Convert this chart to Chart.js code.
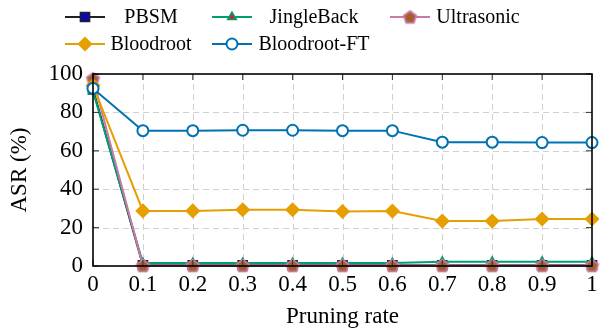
<!DOCTYPE html>
<html>
<head>
<meta charset="utf-8">
<script src="https://cdn.jsdelivr.net/npm/chart.js@4"></script>
<style>
  html, body { margin: 0; padding: 0; background: #fff; }
  #wrap { width: 607px; height: 328px; }
</style>
</head>
<body>
<div id="wrap"><canvas id="asrChart" width="607" height="328"></canvas></div>
<script>
const pruningRates = [0, 0.1, 0.2, 0.3, 0.4, 0.5, 0.6, 0.7, 0.8, 0.9, 1];
const xTicks = [0, 0.1, 0.2, 0.3, 0.4, 0.5, 0.6, 0.7, 0.8, 0.9, 1];
const yTicks = [0, 20, 40, 60, 80, 100];

const pbsm        = [92, 0.4, 0.4, 0.4, 0.4, 0.4, 0.4, 0.4, 0.4, 0.4, 0.4];
const jingleBack  = [91, 1.5, 1.5, 1.5, 1.5, 1.5, 1.5, 2.2, 2.2, 2.2, 2.2];
const ultrasonic  = [97.5, 0.2, 0.2, 0.2, 0.2, 0.2, 0.2, 0.2, 0.2, 0.2, 0.2];
const bloodroot   = [94, 28.7, 28.7, 29.3, 29.3, 28.4, 28.6, 23.4, 23.4, 24.5, 24.5];
const bloodrootFT = [92.5, 70.5, 70.5, 70.7, 70.7, 70.5, 70.5, 64.5, 64.5, 64.3, 64.3];

const FONT = '"Liberation Serif", "DejaVu Serif", serif';

// pentagon marker (no built-in pointStyle for it)
function pentagon(r, fill, stroke) {
  const c = document.createElement('canvas');
  const s = Math.ceil(r * 2 + 4);
  c.width = s; c.height = s;
  const g = c.getContext('2d');
  g.beginPath();
  for (let i = 0; i < 5; i++) {
    const a = -Math.PI / 2 + i * 2 * Math.PI / 5;
    const px = s / 2 + r * Math.cos(a), py = s / 2 + r * Math.sin(a) + 0.6;
    if (i === 0) g.moveTo(px, py); else g.lineTo(px, py);
  }
  g.closePath();
  g.fillStyle = fill; g.fill();
  g.lineWidth = 1.8; g.strokeStyle = stroke; g.stroke();
  return c;
}
const pentaImg = pentagon(6.5, '#a0622d', '#cc79a7');

const series = [
  {label: 'PBSM', data: pbsm, color: '#222222', fill: '#0a0ab4', style: 'rect', radius: 6.5, order: 5},
  {label: 'JingleBack', data: jingleBack, color: '#009e73', fill: '#d42020', style: 'triangle', radius: 5, order: 4},
  {label: 'Ultrasonic', data: ultrasonic, color: '#cc79a7', fill: '#a0622d', style: pentaImg, radius: 7, order: 3},
  {label: 'Bloodroot', data: bloodroot, color: '#e69f00', fill: '#e69f00', style: 'rectRot', radius: 6.5, order: 2},
  {label: 'Bloodroot-FT', data: bloodrootFT, color: '#0072b2', fill: '#ffffff', style: 'circle', radius: 5.5, order: 1}
];

// legend laid out in aligned columns like the pgfplots one
const legendCols = [{x0: 65, tc: 151}, {x0: 212, tc: 314}, {x0: 390, tc: 478}];
const legendRows = [17, 44];

const framePlugin = {
  id: 'frame',
  beforeDatasetsDraw(chart) {
    const {ctx, chartArea: a, scales} = chart;
    ctx.save();
    ctx.strokeStyle = '#d0d0d0';
    ctx.lineWidth = 1;
    ctx.setLineDash([6, 4]);
    yTicks.slice(1, -1).forEach(v => {
      const y = Math.round(scales.y.getPixelForValue(v)) + 0.5;
      ctx.beginPath(); ctx.moveTo(a.left, y); ctx.lineTo(a.right, y); ctx.stroke();
    });
    xTicks.slice(1, -1).forEach(v => {
      const x = Math.round(scales.x.getPixelForValue(v)) + 0.5;
      ctx.beginPath(); ctx.moveTo(x, a.top); ctx.lineTo(x, a.bottom); ctx.stroke();
    });
    ctx.restore();
  },
  afterDatasetsDraw(chart) {
    const {ctx, chartArea: a, scales} = chart;
    ctx.save();
    // inner tick marks on all sides
    ctx.strokeStyle = '#333';
    ctx.lineWidth = 1;
    yTicks.forEach(v => {
      const y = scales.y.getPixelForValue(v);
      ctx.beginPath();
      ctx.moveTo(a.left, y); ctx.lineTo(a.left + 6, y);
      ctx.moveTo(a.right, y); ctx.lineTo(a.right - 6, y);
      ctx.stroke();
    });
    xTicks.forEach(v => {
      const x = scales.x.getPixelForValue(v);
      ctx.beginPath();
      ctx.moveTo(x, a.top); ctx.lineTo(x, a.top + 6);
      ctx.moveTo(x, a.bottom); ctx.lineTo(x, a.bottom - 6);
      ctx.stroke();
    });
    ctx.strokeStyle = '#000';
    ctx.lineWidth = 1.6;
    ctx.strokeRect(a.left, a.top, a.right - a.left, a.bottom - a.top);
    ctx.restore();
  },
  afterDraw(chart) {
    const ctx = chart.ctx;
    ctx.save();
    ctx.font = '20px ' + FONT;
    ctx.textAlign = 'center';
    ctx.textBaseline = 'middle';
    series.forEach((s, i) => {
      const col = legendCols[i % 3], y = legendRows[Math.floor(i / 3)];
      ctx.strokeStyle = s.color;
      ctx.lineWidth = 2;
      ctx.beginPath();
      ctx.moveTo(col.x0, y); ctx.lineTo(col.x0 + 40, y);
      ctx.stroke();
      ctx.fillStyle = s.fill;
      ctx.lineWidth = s.style === 'circle' ? 2 : 1.5;
      Chart.helpers.drawPoint(ctx, {pointStyle: s.style, radius: s.radius, rotation: 0, borderWidth: ctx.lineWidth}, col.x0 + 20, y);
      ctx.fillStyle = '#000';
      ctx.fillText(s.label, col.tc, y + 1);
    });
    ctx.restore();
  }
};

new Chart(document.getElementById('asrChart'), {
  type: 'line',
  data: {
    datasets: series.map(s => ({
      label: s.label,
      data: pruningRates.map((x, i) => ({x: x, y: s.data[i]})),
      borderColor: s.color,
      backgroundColor: s.fill,
      pointBackgroundColor: s.fill,
      pointBorderColor: s.color,
      pointStyle: s.style,
      pointRadius: s.radius,
      pointBorderWidth: s.style === 'circle' ? 2 : 1.5,
      borderWidth: 2,
      tension: 0,
      clip: false,
      order: s.order
    }))
  },
  options: {
    responsive: false,
    animation: false,
    events: [],
    layout: {padding: {left: 6, right: 15, top: 74, bottom: 0}},
    plugins: {legend: {display: false}, tooltip: {enabled: false}},
    scales: {
      x: {
        type: 'linear', min: 0, max: 1,
        afterBuildTicks: sc => { sc.ticks = xTicks.map(v => ({value: v})); },
        afterFit: sc => { sc.height = 62; },
        grid: {display: false, drawTicks: false, tickLength: 0},
        border: {display: false},
        ticks: {
          padding: 5, color: '#000', font: {family: FONT, size: 23},
          maxRotation: 0, autoSkip: false,
          callback: v => String(v)
        },
        title: {display: true, text: 'Pruning rate', color: '#000', font: {family: FONT, size: 23, lineHeight: 1}, padding: {top: 0, bottom: 0}}
      },
      y: {
        min: 0, max: 100,
        afterBuildTicks: sc => { sc.ticks = yTicks.map(v => ({value: v})); },
        afterFit: sc => { sc.width = 87; },
        grid: {display: false, drawTicks: false, tickLength: 0},
        border: {display: false},
        ticks: {padding: 10, color: '#000', font: {family: FONT, size: 23}},
        title: {display: true, text: 'ASR (%)', color: '#000', font: {family: FONT, size: 23}, padding: {top: 0, bottom: 0}}
      }
    }
  },
  plugins: [framePlugin]
});
</script>
</body>
</html>
